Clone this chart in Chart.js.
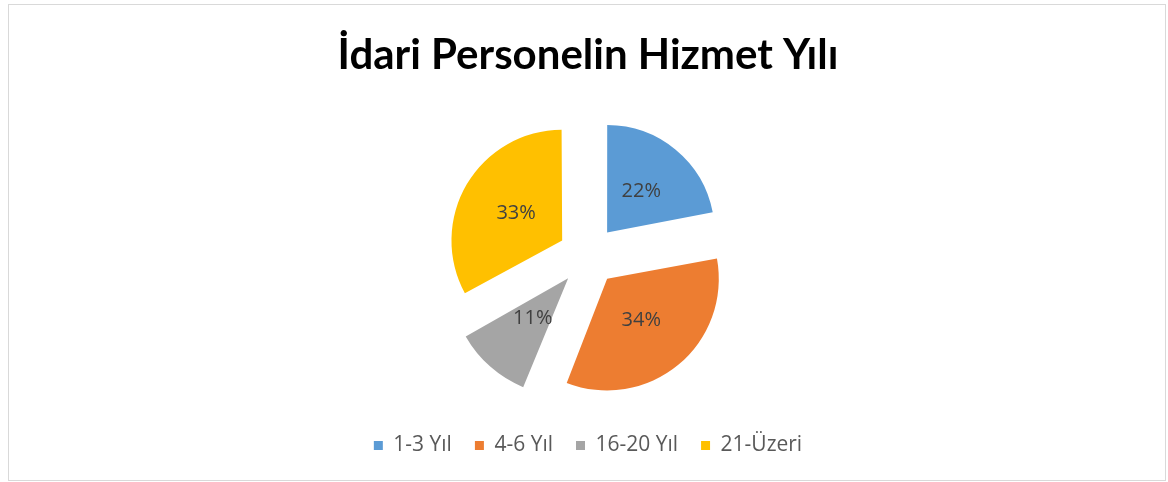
<!DOCTYPE html>
<html>
<head>
<meta charset="utf-8">
<script src="https://cdn.jsdelivr.net/npm/chart.js@4"></script>
<style>
  html, body { margin: 0; padding: 0; background: #fff; }
  #wrap { width: 1168px; height: 482px; position: relative; }
</style>
</head>
<body>
<div id="wrap"><canvas id="c" width="1168" height="482"></canvas></div>
<script>
const titleText = 'İdari Personelin Hizmet Yılı';
const categories = ['1-3 Yıl', '4-6 Yıl', '16-20 Yıl', '21-Üzeri'];
const values = [22, 34, 11, 33];
const colors = ['#5B9BD5', '#ED7D31', '#A5A5A5', '#FFC000'];

const borderPlugin = {
  id: 'frame',
  beforeDraw(chart) {
    const ctx = chart.ctx;
    ctx.save();
    ctx.fillStyle = '#ffffff';
    ctx.fillRect(0, 0, chart.width, chart.height);
    ctx.strokeStyle = '#D9D9D9';
    ctx.lineWidth = 1;
    ctx.strokeRect(8.5, 4.5, 1157, 476);
    ctx.restore();
  }
};

const labelPlugin = {
  id: 'sliceLabels',
  afterDatasetsDraw(chart) {
    const ctx = chart.ctx;
    const meta = chart.getDatasetMeta(0);
    const ds = chart.data.datasets[0];
    const total = ds.data.reduce((a, b) => a + b, 0);
    ctx.save();
    ctx.font = '20px "Open Sans", Lato, sans-serif';
    ctx.fillStyle = '#404040';
    ctx.textAlign = 'center';
    ctx.textBaseline = 'middle';
    meta.data.forEach((arc, i) => {
      const p = arc.getProps(['x', 'y', 'startAngle', 'endAngle', 'outerRadius'], true);
      const off = (arc.options.offset || 0) / 4; // Chart.js draws offset/4
      const mid = (p.startAngle + p.endAngle) / 2;
      const d = off + p.outerRadius * 0.5;
      const x = p.x + Math.cos(mid) * d;
      const y = p.y + Math.sin(mid) * d;
      ctx.fillText(Math.round(ds.data[i] / total * 100) + '%', x, y);
    });
    ctx.restore();
  }
};

new Chart(document.getElementById('c'), {
  type: 'pie',
  data: {
    labels: categories,
    datasets: [{
      data: values,
      backgroundColor: colors,
      borderWidth: 0,
      offset: 120,
      hoverOffset: 120
    }]
  },
  options: {
    responsive: false,
    animation: false,
    radius: 107,
    layout: { padding: { left: 8, right: 0, top: 0, bottom: 16 } },
    plugins: {
      tooltip: { enabled: false },
      title: {
        display: true,
        text: titleText,
        color: '#000000',
        font: { family: 'Lato, "Open Sans", sans-serif', size: 42, weight: 'bold' },
        padding: { top: 30, bottom: 19 }
      },
      legend: {
        position: 'bottom',
        labels: {
          color: '#595959',
          font: { family: '"Open Sans", Lato, sans-serif', size: 21 },
          boxWidth: 9,
          boxHeight: 9,
          padding: 23
        }
      }
    }
  },
  plugins: [borderPlugin, labelPlugin]
});
</script>
</body>
</html>
